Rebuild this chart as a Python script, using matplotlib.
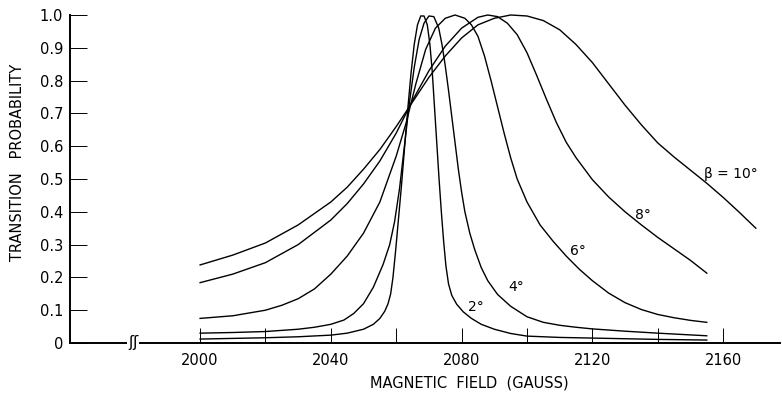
import numpy as np
import matplotlib
matplotlib.use("Agg")
import matplotlib.pyplot as plt

field_2 = [2000, 2020, 2030, 2040, 2045, 2050, 2053, 2055, 2056.5, 2057.5, 2058.3, 2059,
           2059.8, 2060.7, 2061.6, 2062.5, 2063.5, 2064.5, 2065.5, 2066.5, 2067.5, 2068.5,
           2069.5, 2070.3, 2071, 2071.7, 2072.4, 2073.1, 2073.8, 2074.5, 2075.2, 2076,
           2077, 2078.5, 2080.5, 2083, 2086, 2090, 2095, 2100, 2110, 2120, 2140, 2155]
prob_2 = [0.012, 0.016, 0.019, 0.024, 0.03, 0.042, 0.057, 0.075, 0.097, 0.12, 0.15, 0.2,
          0.28, 0.38, 0.48, 0.59, 0.71, 0.82, 0.91, 0.97, 0.997, 0.997,
          0.97, 0.91, 0.83, 0.72, 0.61, 0.5, 0.4, 0.31, 0.235, 0.18,
          0.145, 0.118, 0.095, 0.075, 0.057, 0.042, 0.029, 0.021, 0.017, 0.015, 0.011, 0.009]

field_4 = [2000, 2010, 2020, 2030, 2035, 2040, 2044, 2047, 2050, 2053, 2056, 2058,
           2059.5, 2061, 2062.5, 2064, 2065.5, 2067, 2068.5, 2070, 2071.5, 2073, 2074,
           2075, 2076, 2077, 2078, 2079, 2080, 2081, 2082.5, 2084, 2086, 2088, 2091,
           2095, 2100, 2105, 2110, 2115, 2120, 2130, 2140, 2155]
prob_4 = [0.03, 0.032, 0.035, 0.042, 0.048, 0.057, 0.07, 0.09, 0.12, 0.17, 0.24, 0.3,
          0.37, 0.47, 0.6, 0.73, 0.84, 0.925, 0.975, 0.997, 0.995, 0.96, 0.91,
          0.845, 0.77, 0.69, 0.61, 0.53, 0.46, 0.4, 0.335, 0.285, 0.23, 0.19, 0.148,
          0.112, 0.08, 0.063, 0.054, 0.048, 0.043, 0.036, 0.03, 0.022]

field_6 = [2000, 2010, 2020, 2025, 2030, 2035, 2040, 2045, 2050, 2055, 2060, 2063,
           2066, 2069, 2072, 2075, 2078, 2081, 2083, 2085, 2087, 2089, 2091, 2093,
           2095, 2097, 2100, 2104, 2108, 2112, 2116, 2120, 2125, 2130, 2135, 2140,
           2145, 2150, 2155]
prob_6 = [0.075, 0.083, 0.10, 0.115, 0.135, 0.165, 0.21, 0.265, 0.335, 0.43, 0.57, 0.67,
          0.79, 0.895, 0.96, 0.99, 1.0, 0.99, 0.97, 0.935, 0.875, 0.8, 0.72, 0.64,
          0.565, 0.5, 0.43, 0.36, 0.31, 0.265, 0.225, 0.19, 0.152, 0.123, 0.102, 0.087,
          0.077, 0.069, 0.063]

field_8 = [2000, 2010, 2020, 2030, 2040, 2045, 2050, 2055, 2060, 2065, 2070, 2075,
           2080, 2085, 2088, 2091, 2094, 2097, 2100, 2103, 2106, 2109, 2112, 2115,
           2120, 2125, 2130, 2135, 2140, 2145, 2150, 2155]
prob_8 = [0.184, 0.21, 0.245, 0.30, 0.375, 0.425, 0.485, 0.555, 0.64, 0.74, 0.83, 0.905,
          0.96, 0.993, 1.0, 0.995, 0.975, 0.94, 0.885, 0.815, 0.742, 0.672, 0.612, 0.565,
          0.498, 0.445, 0.4, 0.36, 0.322, 0.287, 0.252, 0.213]

field_10 = [2000, 2010, 2020, 2030, 2040, 2045, 2050, 2055, 2060, 2065, 2070, 2075,
            2080, 2085, 2090, 2095, 2100, 2105, 2110, 2115, 2120, 2125, 2130, 2135,
            2140, 2145, 2150, 2155, 2160, 2165, 2170]
prob_10 = [0.238, 0.268, 0.305, 0.36, 0.43, 0.475, 0.53, 0.59, 0.66, 0.735, 0.81, 0.875,
           0.93, 0.97, 0.99, 1.0, 0.997, 0.983, 0.955, 0.91, 0.855, 0.79, 0.725, 0.665,
           0.61, 0.567, 0.527, 0.487, 0.444, 0.398, 0.35]

x_ticks = [2000, 2020, 2040, 2060, 2080, 2100, 2120, 2140, 2160]
x_labels = ["2000", "", "2040", "", "2080", "", "2120", "", "2160"]
y_ticks = [0, 0.1, 0.2, 0.3, 0.4, 0.5, 0.6, 0.7, 0.8, 0.9, 1.0]
y_labels = ["0", "0.1", "0.2", "0.3", "0.4", "0.5", "0.6", "0.7", "0.8", "0.9", "1.0"]

fig = plt.figure(figsize=(7.82, 3.94), dpi=100)
ax = fig.add_axes([70 / 782, 51 / 394, 710 / 782, 328 / 394])

for fx, py in [(field_2, prob_2), (field_4, prob_4), (field_6, prob_6),
               (field_8, prob_8), (field_10, prob_10)]:
    ax.plot(fx, py, color="black", lw=1.0, clip_on=False, solid_joinstyle="round")

ax.set_xlim(1960.2, 2177.4)
ax.set_ylim(0, 1.0)
for side in ["top", "right"]:
    ax.spines[side].set_visible(False)
for side in ["left", "bottom"]:
    ax.spines[side].set_linewidth(1.4)

ax.set_xticks(x_ticks)
ax.set_xticklabels(x_labels)
ax.set_yticks(y_ticks)
ax.set_yticklabels(y_labels)
ax.tick_params(axis="x", direction="in", length=11, width=0.7, pad=7, labelsize=10.5)
ax.tick_params(axis="y", direction="in", length=12, width=0.7, pad=5, labelsize=10.5)

# axis break on the field axis
ax.text(1979.5, 0, "ʃʃ", ha="center", va="center", fontsize=11,
        bbox=dict(fc="white", ec="none", pad=0.5))

ax.set_xlabel("MAGNETIC  FIELD  (GAUSS)", fontsize=10.5)
ax.xaxis.set_label_coords(0.562, -0.10)
ax.set_ylabel("TRANSITION   PROBABILITY", fontsize=10.5)
ax.yaxis.set_label_coords(-0.064, 0.552)

# curve labels
ax.text(2084.3, 0.11, "2°", ha="center", va="center", fontsize=10)
ax.text(2096.8, 0.171, "4°", ha="center", va="center", fontsize=10)
ax.text(2115.6, 0.28, "6°", ha="center", va="center", fontsize=10)
ax.text(2135.5, 0.39, "8°", ha="center", va="center", fontsize=10)
ax.text(2162.4, 0.515, "β = 10°", ha="center", va="center", fontsize=10)

fig.savefig("out.png", dpi=100)
